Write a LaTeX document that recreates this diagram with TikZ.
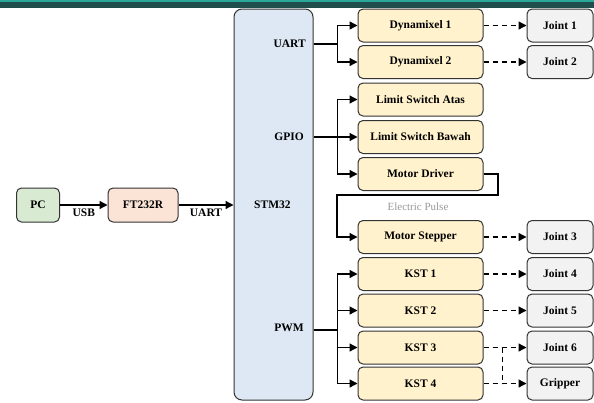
\documentclass[tikz,border=0pt]{standalone}
\usepackage{fontspec}
\setmainfont{Liberation Serif}
\usetikzlibrary{arrows.meta}
\definecolor{bannerdark}{HTML}{1F4F4C}
\definecolor{bannerlight}{HTML}{2BA89A}
\definecolor{bluefill}{HTML}{DDE8F4}
\definecolor{yelfill}{HTML}{FFF2CC}
\definecolor{grayfill}{HTML}{F2F2F2}
\definecolor{greenfill}{HTML}{D9EAD3}
\definecolor{peachfill}{HTML}{FBE3D6}
\definecolor{edgec}{HTML}{333333}
\tikzset{
  box/.style={draw=edgec, line width=1pt, rounded corners=5pt, font=\fontsize{11.5}{13}\selectfont\bfseries, inner sep=0pt, align=center},
  midbox/.style={box, fill=yelfill, minimum width=125pt, minimum height=33pt},
  jbox/.style={box, fill=grayfill, minimum width=66pt, minimum height=33pt},
  arr/.style={-{Triangle[length=8pt,width=8pt]}, line width=1.3pt, black},
  darr/.style={arr, dash pattern=on 5pt off 4pt},
  lbl/.style={font=\fontsize{11.5}{13}\selectfont\bfseries, inner sep=1pt},
}
\begin{document}
\begin{tikzpicture}[x=1pt,y=-1pt]
\useasboundingbox (0,0) rectangle (594,402);
\fill[white] (0,0) rectangle (594,402);
% banner
\fill[bannerdark] (0,0) rectangle (594,7.5);
\fill[bannerlight] (0,0) rectangle (594,1.5);

% left chain
\node[box, fill=greenfill, minimum width=43pt, minimum height=34pt] (pc) at (38,205) {PC};
\node[box, fill=peachfill, minimum width=70pt, minimum height=34pt] (ft) at (143,205) {FT232R};
\node[box, fill=bluefill, minimum width=79pt, minimum height=391pt, rounded corners=8pt] (stm) at (273.5,204.5) {};
\node[lbl, anchor=west] (stmlbl) at (253,205) {STM32};
\node[lbl, anchor=east] (luart) at (307,44) {UART};
\node[lbl, anchor=east] (lgpio) at (305,137) {GPIO};
\node[lbl, anchor=east] (lpwm) at (305,328) {PWM};
\coordinate (pU) at (313.5,44);
\coordinate (pG) at (313.5,137);
\coordinate (pP) at (313.5,330);

\draw[arr] (pc) -- node[lbl, below=2pt] {USB} (ft);
\draw[arr] (ft) -- node[lbl, below=2pt] {UART} (ft -| stm.west);

% middle boxes
\node[midbox] (d1) at (420.5,25.5) {Dynamixel 1};
\node[midbox] (d2) at (420.5,62) {Dynamixel 2};
\node[midbox] (la) at (420.5,99.5) {Limit Switch Atas};
\node[midbox] (lb) at (420.5,137) {Limit Switch Bawah};
\node[midbox] (md) at (420.5,174) {Motor Driver};
\node[midbox] (ms) at (420.5,237) {Motor Stepper};
\node[midbox] (k1) at (420.5,274) {KST 1};
\node[midbox] (k2) at (420.5,310.5) {KST 2};
\node[midbox] (k3) at (420.5,347.5) {KST 3};
\node[midbox] (k4) at (420.5,383.5) {KST 4};

% joint boxes
\node[jbox] (j1) at (560,25.5) {Joint 1};
\node[jbox] (j2) at (560,62) {Joint 2};
\node[jbox] (j3) at (560,237) {Joint 3};
\node[jbox] (j4) at (560,274) {Joint 4};
\node[jbox] (j5) at (560,310.5) {Joint 5};
\node[jbox] (j6) at (560,347.5) {Joint 6};
\node[jbox] (gr) at (560,383.5) {Gripper};

% UART branches
\draw[arr] (pU) -- ++(24,0) |- (d1.west);
\draw[arr] (pU) -- ++(24,0) |- (d2.west);
% GPIO branches
\draw[arr] (pG) -- ++(24,0) |- (la.west);
\draw[arr] (pG) -- (lb.west);
\draw[arr] (pG) -- ++(24,0) |- (md.west);
% PWM branches
\draw[arr] (pP) -- ++(24,0) |- (k1.west);
\draw[arr] (pP) -- ++(24,0) |- (k2.west);
\draw[arr] (pP) -- ++(24,0) |- (k3.west);
\draw[arr] (pP) -- ++(24,0) |- (k4.west);

% motor driver to stepper
\coordinate (mdA) at (498,174);
\coordinate (mdB) at (498,195);
\coordinate (mdC) at (337,195);
\draw[arr] (md.east) -- (mdA) -- (mdB) -- (mdC) |- (ms.west);
\node[font=\fontsize{11}{12}\selectfont, text=black!40, inner sep=0pt] (ep) at (418,207) {Electric Pulse};

% dashed to joints
\draw[darr] (d1) -- (j1);
\draw[darr] (d2) -- (j2);
\draw[darr] (ms) -- (j3);
\draw[darr] (k1) -- (j4);
\draw[darr] (k2) -- (j5);
\draw[darr] (k3) -- (j6);
\draw[darr] (k4) -- (gr);
\draw[dash pattern=on 5pt off 4pt, line width=1.3pt] (k3.east) ++(19,0) coordinate (kb) -- (kb |- gr);
\end{tikzpicture}
\end{document}
